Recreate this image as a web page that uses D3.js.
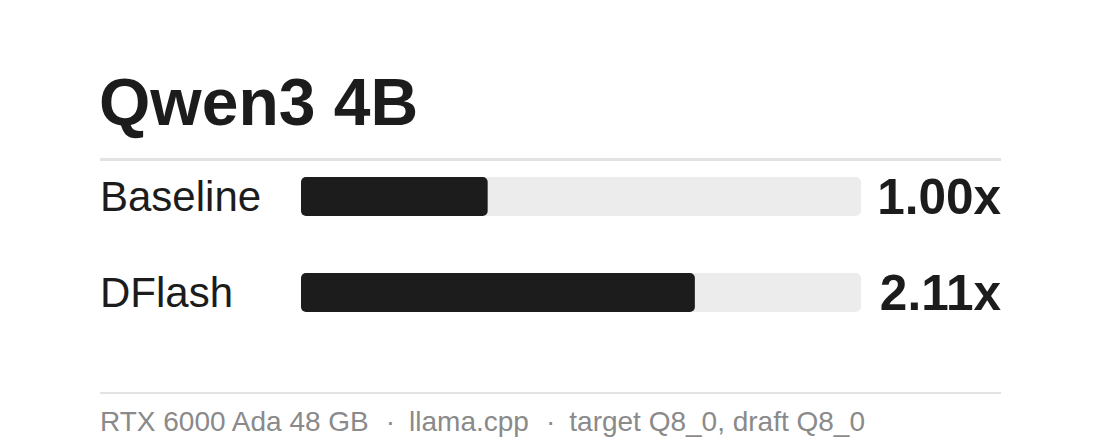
<!DOCTYPE html>
<html>
<head>
<meta charset="utf-8">
<style>
  html, body { margin: 0; padding: 0; background: #fff; }
  svg { display: block; font-family: "Liberation Sans", Arial, Helvetica, sans-serif; }
</style>
</head>
<body>
  <div id="chart"></div>
  <script src="https://d3js.org/d3.v7.min.js"></script>
  <script>
  var title = 'Qwen3 4B',
      categories = ['Baseline', 'DFlash'],
      speedups = [1.00, 2.11],
      valueLabels = ['1.00x', '2.11x'],
      maxSpeedup = 3,
      footerParts = ['RTX 6000 Ada 48 GB', 'llama.cpp', 'target Q8_0, draft Q8_0'];

  var width = 1101,
      height = 448,
      left = 101,
      right = 1001,
      barHeight = 39,
      ink = '#1c1c1c';

  var svg = d3.select('#chart').append('svg')
      .attr('width', width)
      .attr('height', height);

  var x = d3.scaleLinear()
      .domain([0, maxSpeedup])
      .range([301, 861]);

  var y = d3.scalePoint()
      .domain(categories)
      .range([196.5, 292.5]);

  var rows = categories.map(function(c, i){
    return {name: c, value: speedups[i], label: valueLabels[i]};
  });

  // title + rules
  svg.append('text')
    .attr('x', left - 2)
    .attr('y', 125)
    .attr('fill', ink)
    .attr('font-size', 66)
    .attr('font-weight', 'bold')
    .text(title);

  svg.append('rect')
    .attr('x', left - 1).attr('y', 158)
    .attr('width', right - left + 1).attr('height', 3)
    .attr('fill', '#e2e2e2');

  svg.append('rect')
    .attr('x', left - 1).attr('y', 392)
    .attr('width', right - left + 1).attr('height', 2)
    .attr('fill', '#e2e2e2');

  var row = svg.selectAll('g.row')
    .data(rows)
    .enter()
    .append('g')
    .attr('class', 'row')
    .attr('transform', function(d){ return 'translate(0,' + y(d.name) + ')'; });

  row.append('rect')
    .attr('x', x(0))
    .attr('y', -barHeight / 2)
    .attr('width', x(maxSpeedup) - x(0))
    .attr('height', barHeight)
    .attr('rx', 5)
    .attr('fill', '#ececec');

  row.append('rect')
    .attr('x', x(0))
    .attr('y', -barHeight / 2)
    .attr('width', function(d){ return x(d.value) - x(0); })
    .attr('height', barHeight)
    .attr('rx', 5)
    .attr('fill', ink);

  row.append('text')
    .attr('x', left - 1)
    .attr('y', 14.5)
    .attr('fill', ink)
    .attr('font-size', 42)
    .text(function(d){ return d.name; });

  row.append('text')
    .attr('x', right)
    .attr('y', 17)
    .attr('text-anchor', 'end')
    .attr('fill', ink)
    .attr('font-size', 49.5)
    .attr('font-weight', 'bold')
    .text(function(d){ return d.label; });

  // footer
  var foot = svg.append('text')
    .attr('x', left - 1)
    .attr('y', 431)
    .attr('fill', '#8a8a8a')
    .attr('font-size', 28);

  footerParts.forEach(function(p, i){
    if (i > 0) {
      foot.append('tspan').attr('dx', 17).text('·');
      foot.append('tspan').attr('dx', 14).text(p);
    } else {
      foot.append('tspan').text(p);
    }
  });
  </script>
</body>
</html>
